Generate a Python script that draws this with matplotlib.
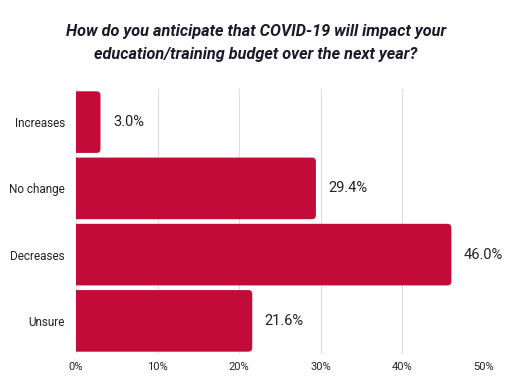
import matplotlib.pyplot as plt
from matplotlib.patches import FancyBboxPatch
from matplotlib.ticker import FuncFormatter

categories = ['Increases', 'No change', 'Decreases', 'Unsure']
values = [3.0, 29.4, 46.0, 21.6]
bar_color = '#C30B3A'

plt.rcParams['font.family'] = ['Roboto', 'DejaVu Sans']

fig = plt.figure(figsize=(5.12, 3.84), dpi=100)
ax = fig.add_axes([76/512, 1 - 354/384, 408/512, 265/384])

ypos = list(range(len(categories)))
h = 0.93
for y, v in zip(ypos, values):
    # start a bit left of zero so only the right corners show rounded
    p = FancyBboxPatch((-1, y - h/2), v + 1, h,
                       boxstyle='round,pad=0,rounding_size=0.5',
                       mutation_aspect=0.12, fc=bar_color, ec='none',
                       zorder=3)
    ax.add_patch(p)
    ax.annotate(f'{v:.1f}%', (v, y), xytext=(9, 0), textcoords='offset points',
                va='center', ha='left', fontsize=10.5, color='#222222')

ax.set_xlim(0, 50)
ax.set_ylim(len(categories) - 0.5, -0.5)
ax.set_xticks([0, 10, 20, 30, 40, 50])
ax.xaxis.set_major_formatter(FuncFormatter(lambda x, _: f'{x:.0f}%'))
ax.set_yticks(ypos)
ax.set_yticklabels(categories)
ax.tick_params(axis='y', length=0, pad=8, labelsize=8.5, labelcolor='#222222')
ax.tick_params(axis='x', length=0, pad=6, labelsize=8, labelcolor='#222222')
ax.grid(axis='x', color='#dddddd', linewidth=0.8, zorder=0)
for s in ax.spines.values():
    s.set_visible(False)
ax.axvline(0, color='#cccccc', linewidth=0.8, zorder=1)

fig.text(0.5, 1 - 43/384, 'How do you anticipate that COVID-19 will impact your\neducation/training budget over the next year?',
         ha='center', va='center', fontsize=11.7, fontweight='bold', fontstyle='italic',
         color='#1a1a2a', linespacing=1.6)

fig.savefig('out.png', dpi=100)
